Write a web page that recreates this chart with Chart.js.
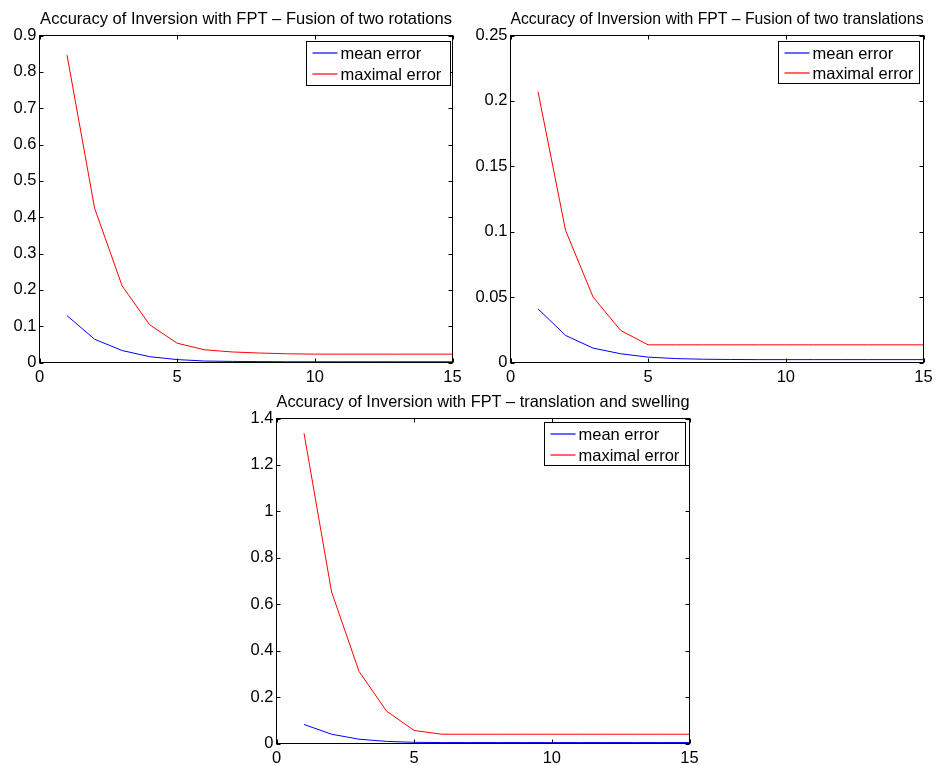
<!DOCTYPE html>
<html><head><meta charset="utf-8">
<script src="https://cdn.jsdelivr.net/npm/chart.js@4.4.1/dist/chart.umd.min.js"></script>
<style>
html,body{margin:0;padding:0;background:#fff;width:938px;height:765px;overflow:hidden;position:relative;}
canvas{position:absolute;}
</style></head><body>
<canvas id="c1" width="470" height="385" style="left:0px;top:0px;width:470px;height:385px"></canvas>
<canvas id="c2" width="468" height="385" style="left:470px;top:0px;width:468px;height:385px"></canvas>
<canvas id="c3" width="470" height="382" style="left:236px;top:383px;width:470px;height:382px"></canvas>
<script>
// ---- data ----
const iterations = [1,2,3,4,5,6,7,8,9,10,11,12,13,14,15];
const xTickValues = [0,5,10,15];
const seriesNames = ['mean error','maximal error'];

const rotTitle = 'Accuracy of Inversion with FPT \u2013 Fusion of two rotations';
const rotMean = [0.129,0.064,0.033,0.016,0.008,0.004,0.003,0.0025,0.002,0.002,0.002,0.002,0.002,0.002,0.002];
const rotMax  = [0.846,0.425,0.211,0.104,0.053,0.035,0.029,0.026,0.024,0.023,0.023,0.023,0.023,0.023,0.023];
const rotYTicks = [0,0.1,0.2,0.3,0.4,0.5,0.6,0.7,0.8,0.9];

const traTitle = 'Accuracy of Inversion with FPT \u2013 Fusion of two translations';
const traMean = [0.041,0.0207,0.011,0.0067,0.0041,0.003,0.0025,0.0023,0.0022,0.0022,0.0022,0.0022,0.0022,0.0022,0.0022];
const traMax  = [0.207,0.101,0.050,0.0245,0.0135,0.0135,0.0135,0.0135,0.0135,0.0135,0.0135,0.0135,0.0135,0.0135,0.0135];
const traYTicks = [0,0.05,0.1,0.15,0.2,0.25];

const swTitle = 'Accuracy of Inversion with FPT \u2013 translation and swelling';
const swMean = [0.082,0.040,0.0185,0.009,0.005,0.004,0.004,0.004,0.004,0.004,0.004,0.004,0.004,0.004,0.004];
const swMax  = [1.336,0.653,0.31,0.139,0.056,0.040,0.040,0.040,0.040,0.040,0.040,0.040,0.040,0.040,0.040];
const swYTicks = [0,0.2,0.4,0.6,0.8,1,1.2,1.4];

// ---- rendering ----
const FONT = '"Liberation Sans", Arial, Helvetica, sans-serif';
const FS = 16.5;
const fmt = v => String(parseFloat(Number(v).toFixed(6)));

const framePlugin = {
  id: 'frame',
  afterDraw(chart) {
    const o = chart.options.plugins.frame;
    const {ctx, chartArea: a, scales} = chart;
    const xs = scales.x, ys = scales.y;
    ctx.save();
    ctx.strokeStyle = '#000';
    ctx.lineWidth = 1;
    ctx.strokeRect(a.left, a.top, a.right - a.left, a.bottom - a.top);
    const TL = 4;
    ctx.beginPath();
    xs.ticks.forEach(t => {
      const px = Math.round(xs.getPixelForValue(t.value)) + 0.5;
      ctx.moveTo(px, a.bottom); ctx.lineTo(px, a.bottom - TL);
      ctx.moveTo(px, a.top); ctx.lineTo(px, a.top + TL);
    });
    ys.ticks.forEach(t => {
      const py = Math.round(ys.getPixelForValue(t.value)) + 0.5;
      ctx.moveTo(a.left, py); ctx.lineTo(a.left + TL, py);
      ctx.moveTo(a.right, py); ctx.lineTo(a.right - TL, py);
    });
    ctx.stroke();
    // legend
    const bx = a.right - o.right - o.w, by = a.top + o.top;
    ctx.fillStyle = '#fff';
    ctx.fillRect(bx, by, o.w, o.h);
    ctx.strokeRect(bx, by, o.w, o.h);
    ctx.font = FS + 'px ' + FONT;
    ctx.textBaseline = 'middle';
    ctx.textAlign = 'left';
    chart.data.datasets.forEach((ds, i) => {
      const ly = Math.round(by + o.row0 + i * o.rowGap);
      ctx.strokeStyle = ds.borderColor;
      ctx.lineWidth = 1.2;
      ctx.beginPath();
      ctx.moveTo(bx + 6, ly); ctx.lineTo(bx + 31, ly);
      ctx.stroke();
      ctx.fillStyle = '#000';
      ctx.fillText(ds.label, bx + 34, ly + 1);
    });
    ctx.restore();
  }
};

function makeChart(id, title, mean, max, yTicks, geom) {
  const ymax = yTicks[yTicks.length - 1];
  return new Chart(document.getElementById(id), {
    type: 'line',
    data: {
      datasets: [
        {label: seriesNames[0], data: iterations.map((x, i) => ({x, y: mean[i]})), borderColor: '#0000ff', borderWidth: 1, pointRadius: 0, tension: 0, fill: false},
        {label: seriesNames[1], data: iterations.map((x, i) => ({x, y: max[i]})), borderColor: '#ff0000', borderWidth: 1, pointRadius: 0, tension: 0, fill: false}
      ]
    },
    options: {
      responsive: false,
      animation: false,
      devicePixelRatio: 1,
      layout: {padding: {left: 0, right: geom.padRight, top: 0, bottom: 0}},
      scales: {
        x: {
          type: 'linear', min: 0, max: 15,
          afterBuildTicks: s => { s.ticks = xTickValues.map(v => ({value: v})); },
          afterFit: s => { s.height = geom.xH; },
          grid: {display: false, drawTicks: false},
          border: {display: false},
          ticks: {color: '#000', font: {family: FONT, size: FS}, padding: 5, maxRotation: 0, autoSkip: false, callback: v => fmt(v)}
        },
        y: {
          type: 'linear', min: 0, max: ymax,
          afterBuildTicks: s => { s.ticks = yTicks.map(v => ({value: v})); },
          afterFit: s => { s.width = geom.yW; },
          grid: {display: false, drawTicks: false},
          border: {display: false},
          ticks: {color: '#000', font: {family: FONT, size: FS}, padding: 3, autoSkip: false, callback: v => fmt(v)}
        }
      },
      plugins: {
        legend: {display: false},
        tooltip: {enabled: false},
        title: {display: true, text: title, fullSize: false, color: '#000', font: {family: FONT, size: FS, weight: 'normal', lineHeight: 1.2}, padding: {top: 9.5, bottom: 6.2}},
        frame: geom.legend
      }
    },
    plugins: [framePlugin]
  });
}

makeChart('c1', rotTitle, rotMean, rotMax, rotYTicks,
  {padRight: 17.5, xH: 22.5, yW: 39.5, legend: {right: 2, top: 6, w: 144, h: 44, row0: 11, rowGap: 21.5}});
makeChart('c2', traTitle, traMean, traMax, traYTicks,
  {padRight: 14.5, xH: 22.5, yW: 40.5, legend: {right: 4, top: 6, w: 141, h: 42, row0: 11, rowGap: 20.5}});
makeChart('c3', swTitle, swMean, swMax, swYTicks,
  {padRight: 16.5, xH: 21.5, yW: 40.5, legend: {right: 4, top: 4, w: 141, h: 43, row0: 11, rowGap: 21}});
</script>
</body></html>
